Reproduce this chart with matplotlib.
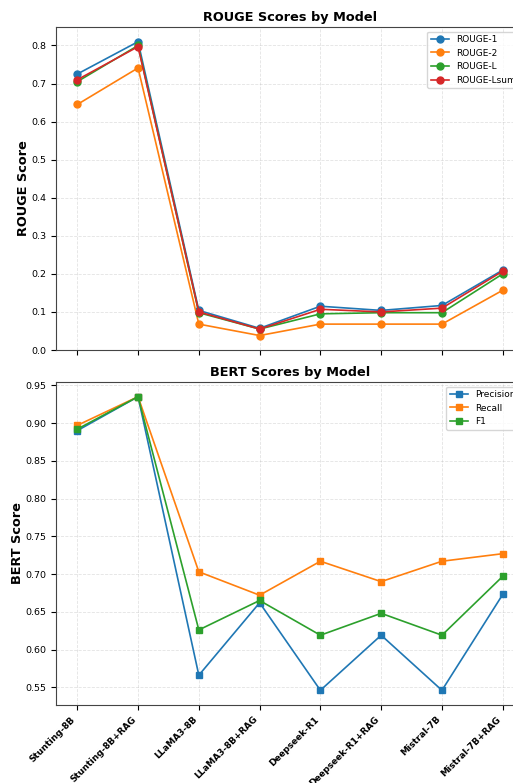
import matplotlib
matplotlib.use("Agg")
import matplotlib.pyplot as plt

models = ["Stunting-8B", "Stunting-8B+RAG", "LLaMA3-8B", "LLaMA3-8B+RAG",
          "Deepseek-R1", "Deepseek-R1+RAG", "Mistral-7B", "Mistral-7B+RAG"]
rouge1 = [0.725, 0.810, 0.104, 0.057, 0.115, 0.104, 0.117, 0.210]
rouge2 = [0.645, 0.741, 0.068, 0.038, 0.068, 0.068, 0.068, 0.157]
rougeL = [0.705, 0.800, 0.098, 0.055, 0.095, 0.098, 0.098, 0.200]
rougeLsum = [0.710, 0.797, 0.100, 0.055, 0.107, 0.100, 0.110, 0.207]

precision = [0.890, 0.935, 0.566, 0.662, 0.546, 0.619, 0.546, 0.673]
recall = [0.897, 0.935, 0.703, 0.672, 0.717, 0.690, 0.717, 0.727]
f1 = [0.892, 0.935, 0.626, 0.665, 0.619, 0.648, 0.619, 0.697]

W, H = 513, 783
fig = plt.figure(figsize=(W / 100, H / 100), dpi=100)

def pos(l, t, r, b):
    return [l / W, 1 - b / H, (r - l) / W, (b - t) / H]

ax1 = fig.add_axes(pos(56, 27, 524, 350))
ax2 = fig.add_axes(pos(56, 382, 524, 705))

x = list(range(len(models)))
for vals, lab in [(rouge1, "ROUGE-1"), (rouge2, "ROUGE-2"), (rougeL, "ROUGE-L"), (rougeLsum, "ROUGE-Lsum")]:
    ax1.plot(x, vals, marker="o", markersize=5, linewidth=1.2, label=lab)
ax1.set_ylim(bottom=0)
ax1.set_title("ROUGE Scores by Model", fontsize=9.3, fontweight="bold", pad=4)
ax1.set_ylabel("ROUGE Score", fontsize=9.3, fontweight="bold", labelpad=1)
ax1.set_xticks(x)
ax1.set_xticklabels([])
ax1.legend(loc="upper right", fontsize=6.5)

for vals, lab in [(precision, "Precision"), (recall, "Recall"), (f1, "F1")]:
    ax2.plot(x, vals, marker="s", markersize=5, linewidth=1.2, label=lab)
ax2.set_title("BERT Scores by Model", fontsize=9.3, fontweight="bold", pad=4)
ax2.set_ylabel("BERT Score", fontsize=9.3, fontweight="bold", labelpad=1)
ax2.set_xticks(x)
ax2.set_xticklabels(models, rotation=45, ha="right", fontsize=6.4, fontweight="bold")
ax2.legend(loc="upper right", fontsize=6.5)

for ax in (ax1, ax2):
    ax.grid(True, linestyle="--", alpha=0.35, linewidth=0.6)
    ax.tick_params(axis="y", labelsize=6.8)
    ax.spines["right"].set_visible(False)
    for s in ("left", "bottom", "top"):
        ax.spines[s].set_color("#444444")

fig.savefig("out.png", dpi=100)
